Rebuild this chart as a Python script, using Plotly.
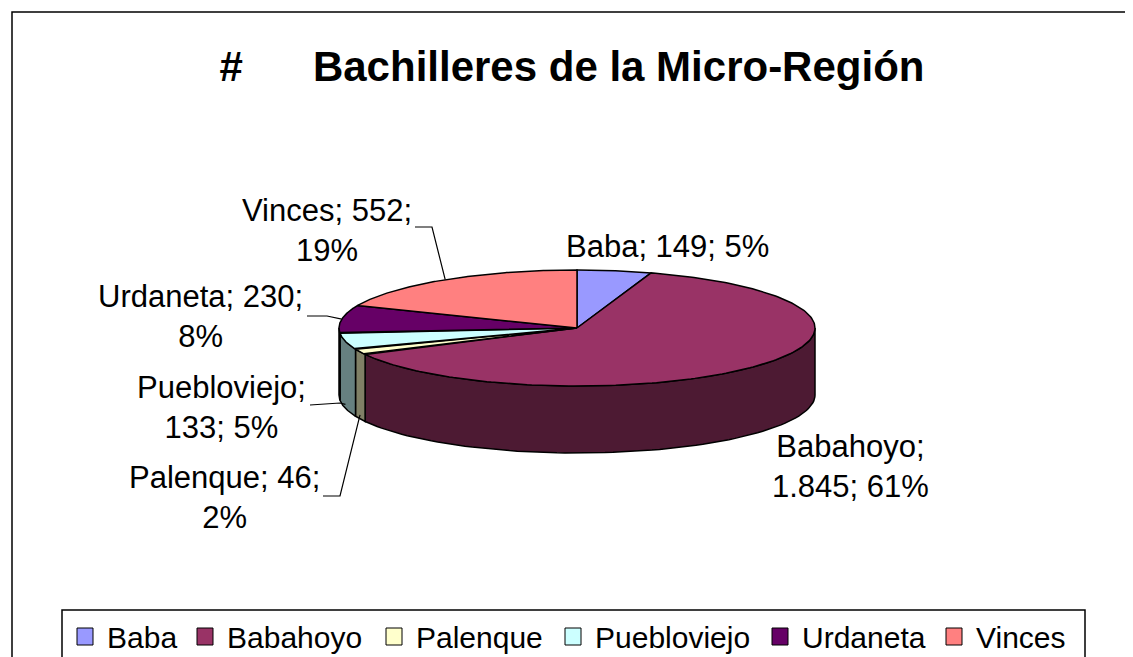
import numpy as np
import plotly.graph_objects as go

categories = ["Baba", "Babahoyo", "Palenque", "Puebloviejo", "Urdaneta", "Vinces"]
values = [149, 1845, 46, 133, 230, 552]
value_labels = ["149", "1.845", "46", "133", "230", "552"]
percent_labels = ["5%", "61%", "2%", "5%", "8%", "19%"]
# how many of the three label parts go on the first line
first_line_parts = [3, 1, 2, 1, 2, 2]

top_colors = ["#9999FF", "#993366", "#FFFFCC", "#CCFFFF", "#660066", "#FF8080"]
side_colors = ["#4D4D80", "#4D1A33", "#808066", "#668080", "#330033", "#804040"]

# ---- layout geometry (screen pixels) ----
VW, VH = 1133, 657          # browser viewport
OFF = 8                     # default body margin of the page
W, H = VW - OFF, VH - OFF   # figure size so it fills the visible area
CX, CY, A, B, D = 577, 328, 238, 58, 67
label_pos = [(667, 246), (850, 466), (224, 497), (221, 407), (200, 316), (327, 230)]
label_elbow = [None, None, [(323, 496), (340, 496)], [(310, 405), (340, 403)],
               [(307, 316), (327, 316)], [(415, 227), (432, 227)]]
anchor_on_bottom = [False, False, True, True, False, False]
legend_box = (62, 610, 1085, 700)
legend_sq_x = [77, 197, 386, 565, 772, 946]
legend_sq_y = (628, 645)
legend_sq_size = 16

FONT = "Liberation Sans, Arial, sans-serif"


def ell(theta):
    t = np.radians(theta)
    return CX + A * np.sin(t), CY - B * np.cos(t)


total = float(sum(values))
bounds = np.concatenate([[0], np.cumsum(values)]) / total * 360.0

fig = go.Figure()

# visible side walls (front half: 90..270 deg clockwise from top)
for i in range(len(values)):
    t1, t2 = max(bounds[i], 90), min(bounds[i + 1], 270)
    if t2 <= t1:
        continue
    th = np.linspace(t1, t2, 80)
    x, y = ell(th)
    xs = np.concatenate([x, x[::-1], [x[0]]])
    ys = np.concatenate([y, (y + D)[::-1], [y[0]]])
    fig.add_trace(go.Scatter(x=xs, y=ys, mode="lines", fill="toself",
                             fillcolor=side_colors[i], line=dict(color="black", width=1.5),
                             hoverinfo="skip", showlegend=False))

# top faces
for i in range(len(values)):
    th = np.linspace(bounds[i], bounds[i + 1], 200)
    x, y = ell(th)
    xs = np.concatenate([[CX], x, [CX]])
    ys = np.concatenate([[CY], y, [CY]])
    fig.add_trace(go.Scatter(x=xs, y=ys, mode="lines", fill="toself",
                             fillcolor=top_colors[i], line=dict(color="black", width=1.5),
                             hoverinfo="skip", showlegend=False, name=categories[i]))

# data labels and leader lines
for i in range(len(values)):
    parts = [categories[i], value_labels[i], percent_labels[i]]
    k = first_line_parts[i]
    line1 = "; ".join(parts[:k])
    line2 = "; ".join(parts[k:])
    text = line1 + (";<br>" + line2 if line2 else "")
    lx, ly = label_pos[i]
    fig.add_annotation(x=lx, y=ly, text=text, showarrow=False, xanchor="center", yanchor="middle",
                       font=dict(family=FONT, size=31, color="black"), align="center")
    if label_elbow[i] is not None:
        mid = (bounds[i] + bounds[i + 1]) / 2
        ax, ay = ell(mid)
        if anchor_on_bottom[i]:
            ay = ay + D - 4
        pts = label_elbow[i] + [(ax, ay)]
        fig.add_trace(go.Scatter(x=[p[0] for p in pts], y=[p[1] for p in pts], mode="lines",
                                 line=dict(color="black", width=1.2), hoverinfo="skip",
                                 showlegend=False))

# legend (drawn as a boxed key below the pie)
fig.add_shape(type="rect", x0=legend_box[0], y0=legend_box[1], x1=legend_box[2], y1=legend_box[3],
              line=dict(color="black", width=1.5), fillcolor="white", layer="below")
for i, c in enumerate(categories):
    sx = legend_sq_x[i]
    fig.add_shape(type="rect", x0=sx, x1=sx + legend_sq_size, y0=legend_sq_y[0], y1=legend_sq_y[1],
                  line=dict(color="black", width=1), fillcolor=top_colors[i])
    fig.add_annotation(x=sx + legend_sq_size + 12, y=(legend_sq_y[0] + legend_sq_y[1]) / 2 + 1,
                       text=c, showarrow=False, xanchor="left", yanchor="middle",
                       font=dict(family=FONT, size=30, color="black"))

# outer chart border
fig.add_shape(type="rect", x0=12, y0=12, x1=VW + 20, y1=VH + 20,
              line=dict(color="black", width=1.5), fillcolor="rgba(0,0,0,0)")

fig.update_layout(
    width=W, height=H, margin=dict(l=0, r=0, t=0, b=0, autoexpand=False),
    paper_bgcolor="white", plot_bgcolor="white",
    xaxis=dict(range=[OFF, VW], visible=False, fixedrange=True),
    yaxis=dict(range=[VH, OFF], visible=False, fixedrange=True),
    title=dict(text="#" + "\u00a0" * 6 + "Bachilleres de la Micro-Región",
               x=(572 - OFF) / W, xanchor="center", y=1 - (66 - OFF) / H, yanchor="middle",
               font=dict(family=FONT, size=42, color="black", weight="bold")),
    showlegend=False,
)

fig.write_html("out.html")
